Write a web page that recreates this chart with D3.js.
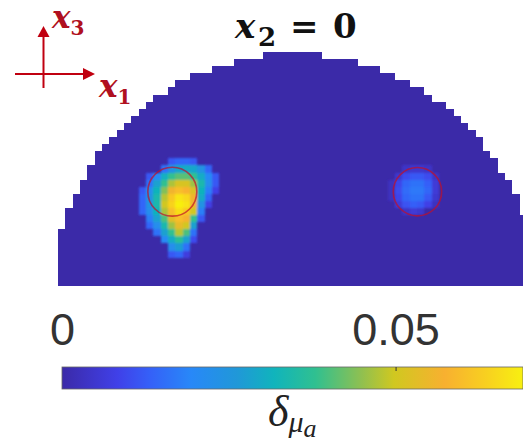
<!DOCTYPE html>
<html>
<head>
<meta charset="utf-8">
<script src="https://cdn.jsdelivr.net/npm/d3@7"></script>
<style>
	html, body {margin: 0; padding: 0; background: #fff; overflow: hidden;}
	svg {display: block;}
	.tick-label text {font-family: "Liberation Sans", sans-serif;}
	.math {font-family: "DejaVu Serif", serif; font-weight: bold; font-style: italic;}
</style>
</head>
<body>
<div id="chart"></div>
<script>
// dome outline: first and last+1 column of each grid row, top to bottom
var rowStart = [28, 24, 21, 18, 16, 15, 13, 12, 11, 10, 9, 8, 7, 6, 5, 5, 4, 4, 3, 3, 2, 2, 1, 1, 1, 0, 0, 0, 0, 0, 0, 0, 0];
var rowEnd = [36, 41, 44, 46, 48, 50, 51, 53, 54, 55, 56, 57, 58, 58, 59, 60, 60, 61, 62, 62, 63, 63, 63, 64, 64, 64, 64, 64, 64, 64, 64, 64, 64];

// non zero cells, one entry per row: [row, first column, values]
var leftBlob = [
	[15, 15, [.012, .014, .014, .012]],
	[16, 14, [.016, .024, .029, .03, .029, .024, .014]],
	[17, 12, [.012, .02, .031, .038, .041, .041, .038, .03, .02, .012]],
	[18, 12, [.016, .028, .038, .047, .051, .051, .046, .034, .022, .012]],
	[19, 11, [.012, .022, .032, .044, .056, .06, .058, .052, .032, .018, .008]],
	[20, 11, [.014, .024, .034, .048, .062, .067, .065, .056, .03, .014]],
	[21, 11, [.014, .024, .034, .05, .064, .069, .067, .056, .024, .008]],
	[22, 11, [.014, .022, .032, .047, .06, .066, .062, .05, .018]],
	[23, 12, [.018, .028, .04, .053, .06, .057, .038, .012]],
	[24, 12, [.014, .022, .034, .046, .054, .05, .028]],
	[25, 13, [.016, .028, .038, .048, .04, .016]],
	[26, 14, [.02, .03, .037, .028, .01]],
	[27, 15, [.022, .027, .016]],
	[28, 15, [.012, .014, .007]]
];
var rightBlob = [
	[16, 47, [.004, .005, .005, .004]],
	[17, 46, [.005, .01, .012, .012, .01, .004]],
	[18, 45, [.003, .009, .014, .016, .016, .013, .006]],
	[19, 45, [.003, .01, .015, .017, .017, .014, .006]],
	[20, 45, [.003, .009, .014, .016, .016, .012, .005]],
	[21, 46, [.006, .011, .013, .012, .008, .003]],
	[22, 47, [.004, .006, .005]]
];

// true inclusion outlines, grid units
var circleCol = [15.6, 49.05];
var circleRow = [19.7, 19.7];
var circleRadius = [3.34, 3.3];

var colorTicks = [0, 0.05];
var colorMax = 0.0691;
var colorFractions = [0, .12, .19, .28, .38, .46, .55, .65, .72, .83, .92, 1];
var colorValues = ['#3b2aa8', '#4040e8', '#3560f8', '#2888f8', '#2098d8', '#10b4bc', '#30c090', '#90c050', '#d0c820', '#f8b030', '#f8d020', '#f8f010'];

var width = 523, height = 443;

var x = d3.scaleLinear().domain([0, 64]).range([58, 527]);
var y = d3.scaleLinear().domain([0, 33]).range([52, 286]);
var colorBar = d3.scaleLinear().domain([0, colorMax]).range([62, 523]);
var color = d3.scaleLinear()
	.domain(colorFractions.map(function(f) { return f * colorMax; }))
	.range(colorValues);

var svg = d3.select('#chart').append('svg')
	.attr('width', width)
	.attr('height', height);

var defs = svg.append('defs');

defs.append('filter').attr('id', 'soft').append('feGaussianBlur').attr('stdDeviation', 0.45);
defs.append('filter').attr('id', 'softer').append('feGaussianBlur').attr('stdDeviation', 0.9);
defs.append('filter').attr('id', 'softest').append('feGaussianBlur').attr('stdDeviation', 1.3);

var gradient = defs.append('linearGradient').attr('id', 'parula');
gradient.selectAll('stop')
	.data(colorFractions)
	.enter().append('stop')
		.attr('offset', function(d) { return d * 100 + '%'; })
		.attr('stop-color', function(d, i) { return colorValues[i]; });

function flatten(blob) {
	var cells = [];
	blob.forEach(function(r) {
		r[2].forEach(function(v, i) {
			cells.push({row: r[0], col: r[1] + i, value: v});
		});
	});
	return cells;
}

// whole pixel cell edges, fractional ones leave seams between rows
function px(scale, v) { return Math.round(scale(v)); }

var map = svg.append('g').attr('filter', 'url(#soft)');

map.selectAll('rect.row')
	.data(rowStart)
	.enter().append('rect')
		.attr('class', 'row')
		.attr('x', function(d) { return px(x, d); })
		.attr('y', function(d, i) { return px(y, i); })
		.attr('width', function(d, i) { return px(x, rowEnd[i]) - px(x, d); })
		.attr('height', function(d, i) { return px(y, i + 1) - px(y, i); })
		.attr('fill', color(0));

function drawBlob(blob, filter) {
	var g = map.append('g');
	if (filter) g.attr('filter', filter);
	g.selectAll('rect')
		.data(flatten(blob))
		.enter().append('rect')
			.attr('x', function(d) { return px(x, d.col); })
			.attr('y', function(d) { return px(y, d.row); })
			.attr('width', function(d) { return px(x, d.col + 1) - px(x, d.col); })
			.attr('height', function(d) { return px(y, d.row + 1) - px(y, d.row); })
			.attr('fill', function(d) { return color(d.value); });
}
drawBlob(leftBlob, 'url(#softer)');
drawBlob(rightBlob, 'url(#softest)');

svg.append('g').selectAll('circle')
	.data(circleCol)
	.enter().append('circle')
		.attr('cx', function(d) { return x(d); })
		.attr('cy', function(d, i) { return y(circleRow[i]); })
		.attr('r', function(d, i) { return x(circleRadius[i]) - x(0); })
		.attr('fill', 'none')
		.attr('stroke', '#c0102a')
		.attr('stroke-opacity', 0.7)
		.attr('stroke-width', 1.6);

// colorbar
svg.append('rect')
	.attr('x', colorBar(0))
	.attr('y', 367)
	.attr('width', colorBar(colorMax) - colorBar(0))
	.attr('height', 22)
	.attr('fill', 'url(#parula)')
	.attr('stroke', '#666')
	.attr('stroke-width', 0.8);

var axis = d3.axisTop(colorBar)
	.tickValues(colorTicks)
	.tickFormat(function(d) { return d; })
	.tickSize(-4)
	.tickPadding(22);

var axisG = svg.append('g')
	.attr('class', 'tick-label')
	.attr('transform', 'translate(0,367)')
	.call(axis);
axisG.select('.domain').remove();
axisG.selectAll('text')
	.attr('font-size', 45)
	.attr('fill', '#333');
axisG.selectAll('line').attr('stroke', '#333');
axisG.selectAll('.tick').filter(function(d) { return d === 0; }).select('line').remove();

// colorbar label
var barLabel = svg.append('text')
	.attr('x', 268)
	.attr('y', 426)
	.attr('font-family', '"Liberation Serif", serif')
	.attr('font-style', 'italic')
	.attr('fill', '#222');
barLabel.append('tspan').attr('font-size', 44).text('δ');
barLabel.append('tspan').attr('font-size', 30).attr('dy', 6).text('μ');
barLabel.append('tspan').attr('font-size', 26).attr('dy', 5).text('a');

// title
var title = svg.append('text')
	.attr('class', 'math')
	.attr('y', 38)
	.attr('fill', '#111');
title.append('tspan').attr('x', 235).attr('font-size', 34).text('x');
title.append('tspan').attr('x', 258).attr('dy', 8).attr('font-size', 26).style('font-style', 'normal').text('2');
title.append('tspan').attr('x', 290).attr('dy', -8).attr('font-size', 34).style('font-style', 'normal').text('=');
title.append('tspan').attr('x', 333).attr('font-size', 34).style('font-style', 'normal').text('0');

// direction key
var key = svg.append('g').attr('stroke', '#c00010').attr('fill', '#c00010');
key.append('path').attr('d', 'M15,74H86').attr('stroke-width', 2).attr('fill', 'none');
key.append('path').attr('d', 'M43.5,88V35').attr('stroke-width', 2).attr('fill', 'none');
key.append('path').attr('d', 'M95,74L83,68V80Z').attr('stroke', 'none');
key.append('path').attr('d', 'M43.5,26L37.5,37H49.5Z').attr('stroke', 'none');

function keyLabel(kx, ky, name, sub) {
	var t = svg.append('text')
		.attr('class', 'math')
		.attr('x', kx)
		.attr('y', ky)
		.attr('fill', '#b01020');
	t.append('tspan').attr('font-size', 31).text(name);
	t.append('tspan').attr('font-size', 20).attr('dy', 7).style('font-style', 'normal').text(sub);
}
keyLabel(52, 28, 'x', '3');
keyLabel(99, 97, 'x', '1');
</script>
</body>
</html>
